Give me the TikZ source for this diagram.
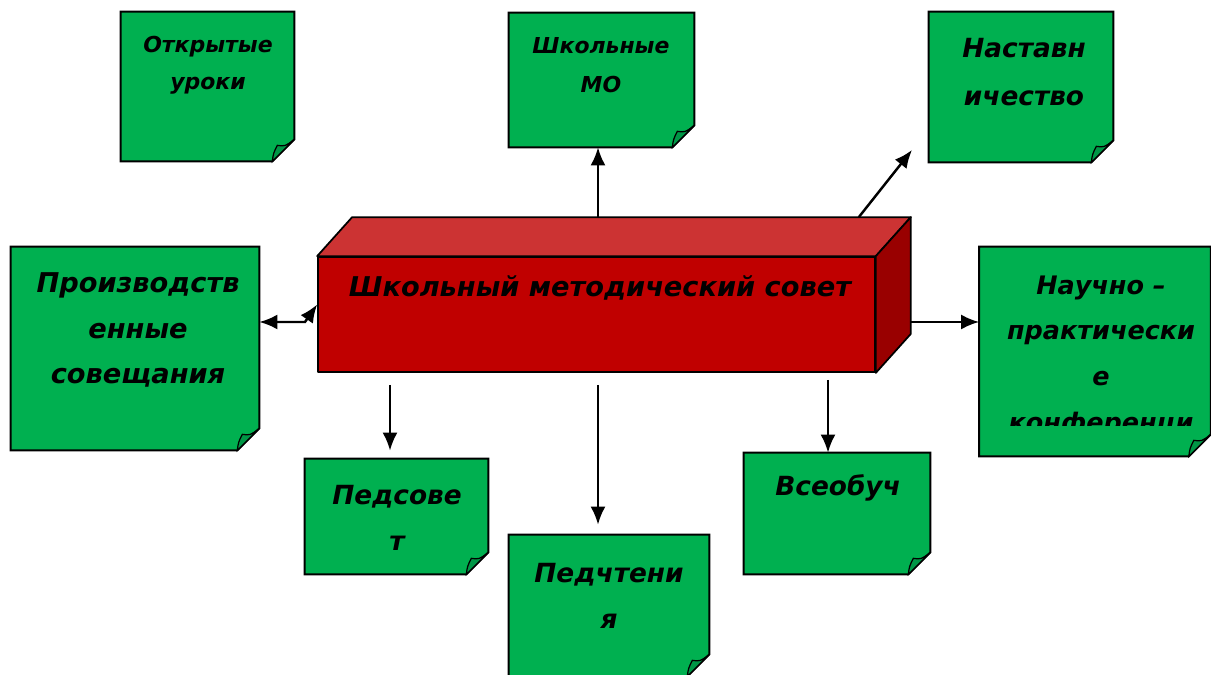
\documentclass[tikz,border=0pt]{standalone}
\usepackage{fontspec}
\setmainfont{DejaVu Sans}
\usetikzlibrary{calc,arrows.meta}
\definecolor{notegreen}{RGB}{0,176,80}
\definecolor{flapgreen}{RGB}{0,150,70}
\definecolor{boxfront}{RGB}{192,0,0}
\definecolor{boxtop}{RGB}{204,51,51}
\definecolor{boxside}{RGB}{153,0,0}
\def\foldnote(#1){%
  \draw[notecard] (#1.north west) -- (#1.north east) -- ($(#1.south east)+(0,-22)$)
    -- ($(#1.south east)+(-22,0)$) -- (#1.south west) -- cycle;
  \draw[flap] ($(#1.south east)+(-22,0)$) .. controls +(1,-8) .. ($(#1.south east)+(-17,-16)$)
    .. controls +(8,1) .. ($(#1.south east)+(0,-22)$) -- cycle;}

\begin{document}
\begin{tikzpicture}[x=0.02cm, y=-0.02cm,
  notebox/.style={rectangle, inner sep=0pt},
  notecard/.style={draw=black, fill=notegreen, line width=1.1pt},
  flap/.style={draw=black, fill=flapgreen, line width=0.7pt},
  notetext/.style={align=center, inner sep=0pt, font=\fontsize{15}{26}\selectfont\bfseries\itshape},
  boxface/.style={draw=black, line width=1pt, line join=round},
  conn/.style={-{Latex[length=3.6mm,width=3mm]}, line width=1.4pt},
  dconn/.style={{Latex[length=3.6mm,width=3mm]}-{Latex[length=3.6mm,width=3mm]}, line width=1.4pt}]
		%%%%% START %%%%%
		\useasboundingbox (0,0) rectangle (1211,675);
		
		% notes
		\node[notebox, minimum width=3.46cm, minimum height=2.98cm] (otkr) at (207.5,86.5) {};
		\node[notebox, minimum width=3.70cm, minimum height=2.68cm] (mo) at (601.5,80) {};
		\node[notebox, minimum width=3.68cm, minimum height=3.00cm] (nast) at (1021,87) {};
		\node[notebox, minimum width=4.96cm, minimum height=4.06cm] (proizv) at (135,348.5) {};
		\node[notebox, minimum width=4.62cm, minimum height=4.18cm] (nauch) at (1095,351.5) {};
		\node[notebox, minimum width=3.66cm, minimum height=2.30cm] (pedsov) at (396.5,516.5) {};
		\node[notebox, minimum width=4.00cm, minimum height=2.82cm] (pedcht) at (609,605.5) {};
		\node[notebox, minimum width=3.72cm, minimum height=2.42cm] (vseob) at (837,513.5) {};
		\foldnote(otkr) \foldnote(mo) \foldnote(nast) \foldnote(proizv)
		\foldnote(nauch) \foldnote(pedsov) \foldnote(pedcht) \foldnote(vseob)
		
		\node[notetext, font=\fontsize{12.5}{21}\selectfont\bfseries\itshape] (otkr-t) at (208,65) {Открытые\\уроки};
		\node[notetext, font=\fontsize{12.5}{22}\selectfont\bfseries\itshape] (mo-t) at (601,65) {Школьные\\МО};
		\node[notetext, font=\fontsize{15}{27}\selectfont\bfseries\itshape] (nast-t) at (1024,72) {Наставн\\ичество};
		\node[notetext, font=\fontsize{15.5}{26}\selectfont\bfseries\itshape] (proizv-t) at (138,330) {Производств\\енные\\совещания};
		\begin{scope}
			\clip (979,247) rectangle (1211,426);
			\node[notetext, font=\fontsize{14.5}{26}\selectfont\bfseries\itshape] (nauch-t) at (1101,356) {Научно –\\практически\\е\\конференци};
		\end{scope}
		\node[notetext] (pedsov-t) at (397,518) {Педсове\\т};
		\node[notetext] (pedcht-t) at (609,596) {Педчтени\\я};
		\node[notetext] (vseob-t) at (838,488) {Всеобуч};
		
		% council box
		\node[boxface, fill=boxfront, rectangle, inner sep=0pt, minimum width=11.14cm, minimum height=2.30cm] (council) at (596.5,314.5) {};
		\draw[boxface, fill=boxtop] (council.north west) -- ++(35,-39) -- ($(council.north east)+(35,-39)$) -- (council.north east) -- cycle;
		\draw[boxface, fill=boxside] (council.north east) -- ++(35,-39) -- ($(council.south east)+(35,-39)$) -- (council.south east) -- cycle;
		\node[notetext, font=\fontsize{15.5}{20}\selectfont\bfseries\itshape] (council-t) at (600,288) {Школьный методический совет};
		
		% connectors
		\coordinate (ctop) at ($(council.north)+(0,-39)$);
		\coordinate (nasttip) at (912,150);
		\coordinate (lbend) at (305,322);
		\coordinate (rstart) at (910,322);
		\coordinate (d1) at (390,385);
		\coordinate (d2) at (598,385);
		\coordinate (d3) at (828,380);
		\draw[conn] (d2 |- ctop) -- (d2 |- mo.south);
		\draw[conn] ($(council.north east)+(-17,-39)$) -- (nasttip);
		\draw[dconn] (proizv.east |- lbend) -- (lbend) -- ($(council.west)+(0,-10)$);
		\draw[conn] (rstart) -- (rstart -| nauch.west);
		\draw[conn, shorten >=1.6mm] (d1) -- (d1 |- pedsov.north);
		\draw[conn, shorten >=2mm] (d2) -- (d2 |- pedcht.north);
		\draw[conn] (d3) -- (d3 |- vseob.north);
		
		%%%%% END %%%%%
\end{tikzpicture}
\end{document}
